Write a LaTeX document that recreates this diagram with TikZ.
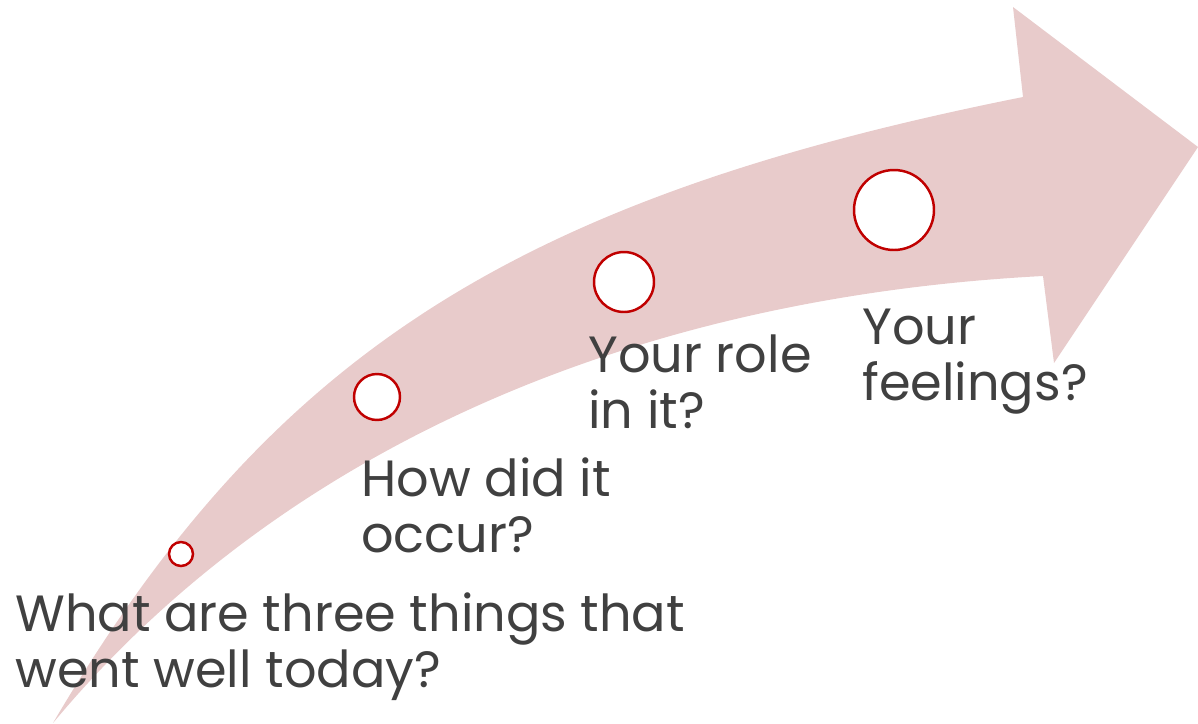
\documentclass[tikz,border=0pt]{standalone}
\usepackage{fontspec}
\setmainfont{Poppins}
\usepackage{xcolor}
\usepackage{tikz}
\definecolor{bandpink}{HTML}{E8CBCB}
\definecolor{ringred}{HTML}{C00000}
\definecolor{textgrey}{HTML}{404040}

\begin{document}
\begin{tikzpicture}[
  x=0.02cm, y=-0.02cm,
  band/.style={fill=bandpink, draw=none},
  ring/.style={circle, draw=ringred, line width=1.4pt, fill=white, inner sep=0pt},
  label/.style={anchor=base west, align=left, inner sep=0pt, text=textgrey, font=\fontsize{29}{31.5}\selectfont}
]
\useasboundingbox (0,0) rectangle (1198,724);
% curved arrow
\fill[band] (53,723) .. controls (269,356) and (512,199) .. (1023,97)
  -- (1013,7) -- (1198,147) -- (1054,363) -- (1043,276)
  .. controls (624,298) and (277,454) .. (53,723) -- cycle;
\node[ring, minimum size=0.48cm] (c1) at (181,554) {};
\node[ring, minimum size=0.92cm] (c2) at (377,397) {};
\node[ring, minimum size=1.2cm] (c3) at (624,282) {};
\node[ring, minimum size=1.6cm] (c4) at (894,210) {};
% anchor sits on the last line
\node[label] (well) at (15,687) {What are three things that\\went well today?};
\node[label] (how) at (361,552) {How did it\\occur?};
\node[label] (role) at (588,428) {Your role\\in it?};
\node[label] (feel) at (862,400) {Your\\feelings?};
\end{tikzpicture}
\end{document}
